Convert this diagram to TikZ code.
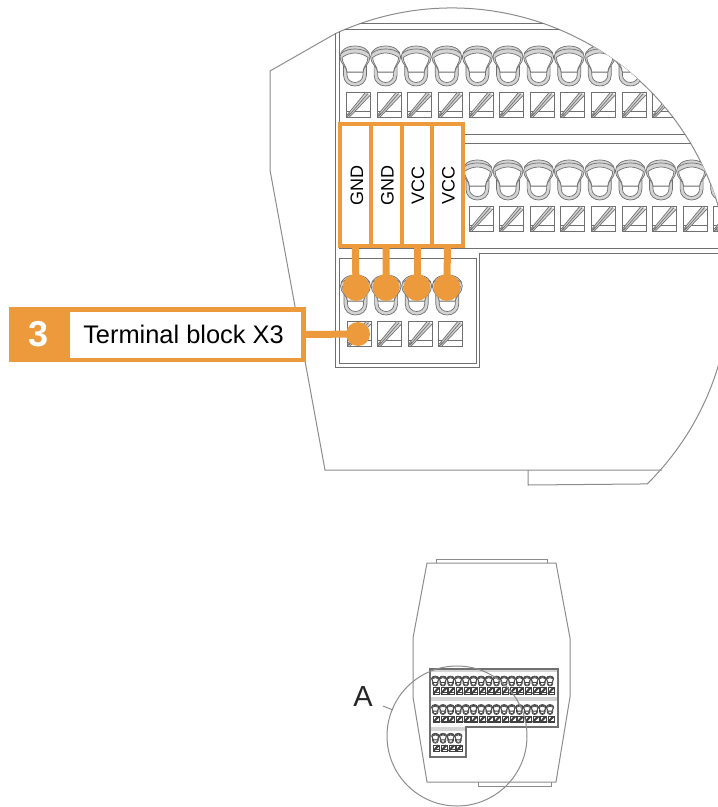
\documentclass[tikz,border=0pt]{standalone}
\usepackage{fontspec}
\usetikzlibrary{calc}
\setmainfont{Liberation Sans}
\definecolor{accent}{HTML}{EC9A3C}
\definecolor{outl}{HTML}{8C8C8C}
\definecolor{tline}{HTML}{707070}
\definecolor{tband}{HTML}{D4D4D4}
\newcommand{\tlw}{0.7pt}
\newcommand{\boxlw}{0.7pt}
\newcommand{\stripelw}{0.7pt}
\newcommand{\fsize}[1]{\fontsize{#1}{#1}\selectfont}
\tikzset{
  outline/.style={draw=outl,line width=1pt},
  inner line/.style={draw=tline,line width=0.8pt},
  tl/.style={draw=tline,line width=\tlw},
  knob/.pic={
    \draw[tl,fill=tband] (-11.5,20) -- (-11.5,29) .. controls (-11.5,36) and (-6,40) .. (0,40)
       .. controls (6,40) and (11.5,36) .. (11.5,29) -- (11.5,20) -- cycle;
    \draw[tl,fill=white] (-8,26) -- (-8,29) .. controls (-8,33.5) and (-4,36.5) .. (0,36.5) .. controls (4,36.5) and (8,33.5) .. (8,29) -- (8,26) -- cycle;
    \draw[tl,fill=tband] (-8,26) .. controls (-8,21) and (-15,18) .. (-15,11)
       .. controls (-15,4) and (-8,0) .. (0,0) .. controls (8,0) and (15,4) .. (15,11)
       .. controls (15,18) and (8,21) .. (8,26) -- cycle;
    \draw[tl,fill=white] (-8,26) .. controls (-8,21) and (-13,17) .. (-13,11.5)
       .. controls (-9,8.5) and (-4,7) .. (0,7) .. controls (4,7) and (9,8.5) .. (13,11.5)
       .. controls (13,17) and (8,21) .. (8,26) -- cycle;
    \draw[tl] (-14,7.5) .. controls (-10,4) and (-5,3) .. (0,3) .. controls (5,3) and (10,4) .. (14,7.5);
  },
  screw/.pic={
    \draw[draw=tline,line width=\boxlw] (0,0) rectangle (24,25);
    \draw[draw=tline,line width=\boxlw] (0,19) -- (24,19);
    \fill[tband] (0.5,23) -- (19,0.5) -- (24,3) -- (3,25) -- cycle;
    \draw[draw=tline,line width=\stripelw] (0.5,23) -- (19,0.5);
    \draw[draw=tline,line width=\stripelw] (1.5,24.5) -- (21.5,1.5);
    \draw[draw=tline,line width=\stripelw] (3,25) -- (24,3);
    \draw[tl,line width=1.1*\stripelw] (0.3,25) -- (3.5,21.3);
  },
  tagtext/.style={font=\fsize{18},rotate=90,inner sep=0pt},
  signal/.style={draw=accent,line width=4pt,fill=white,minimum width=30.6pt,minimum height=122pt,inner sep=0pt},
  dot/.style={circle,fill=accent,inner sep=0pt},
  leader/.style={draw=accent,line width=7pt},
}
\newcommand{\terminals}{%
  \foreach \i in {0,...,15}{
    \pic[transform shape] at ({355+30.6*\i},46) {knob};
    \pic[transform shape] at ({346.5+30.6*\i},92) {screw};
    \pic[transform shape] at ({355+30.6*\i},160) {knob};
    \pic[transform shape] at ({346.5+30.6*\i},206) {screw};
  }
  \foreach \i in {0,...,3}{
    \pic[transform shape] at ({355.5+30.6*\i},275) {knob};
    \pic[transform shape] at ({347+30.6*\i},321) {screw};
  }
}
\begin{document}
\begin{tikzpicture}[x=1pt,y=-1pt]
\useasboundingbox (0,0) rectangle (718,807);
\begin{scope}
  \clip (0,0) rectangle (718,807);
  % housing outline
  \draw[outline] (270,170) -- (270,71) -- ($(452,286)+(114.8:278pt)$)
     arc[start angle=114.8,end angle=-45.4,radius=278pt] -- (528,485) -- (528,470);
  \draw[outline] (270,170) -- (325,470) -- (662,470);
  % inner parts, cut by the detail circle
  \clip (452,286) circle[radius=278pt];
  \draw[inner line] (335,20) -- (335,367) -- (479,367) -- (479,253) -- (730,253);
  \draw[inner line] (339,20) -- (339,248) -- (730,248);
  \draw[inner line] (339,29) -- (730,29);
  \draw[inner line] (339,23) -- (730,23);
  \draw[inner line] (464,134) -- (730,134);
  \draw[inner line] (464,143) -- (730,143);
  \draw[inner line] (339,258) rectangle (476,363);
  \terminals
\end{scope}

% orange call-outs
\node[signal] (gnda) at (355.3,185) {};
\node[signal] (gndb) at (386.2,185) {};
\node[signal] (vcca) at (417,185) {};
\node[signal] (vccb) at (447.4,185) {};
\node[tagtext] (gndat) at (357,185) {GND};
\node[tagtext] (gndbt) at (387.5,185) {GND};
\node[tagtext] (vccat) at (418,185) {VCC};
\node[tagtext] (vccbt) at (448.5,185) {VCC};
\node[dot,minimum size=26.6pt] (da) at (356,287.5) {};
\node[dot,minimum size=26.6pt] (db) at (386,287.5) {};
\node[dot,minimum size=26.6pt] (dc) at (417,287.5) {};
\node[dot,minimum size=26.6pt] (dd) at (447,287.5) {};
\node[dot,minimum size=24pt] (de) at (358,334) {};
\draw[leader] (gnda.south) -- (da.center);
\draw[leader] (gndb.south) -- (db.center);
\draw[leader] (vcca.south) -- (dc.center);
\draw[leader] (vccb.south) -- (dd.center);

\node[fill=accent,minimum width=60pt,minimum height=55pt,inner sep=0pt,text=white,font=\fsize{36}\bfseries] (num) at (39,334.5) {3};
\node[draw=accent,line width=4.5pt,fill=white,minimum width=236pt,minimum height=50.5pt,inner sep=0pt,font=\fsize{25.4}] (lab) at (185.3,334.5) {Terminal block X3\hspace*{3.6pt}};
\draw[leader] (lab.east) -- (de.center);

% overview
\draw[outline] (427,563) -- (556,563) -- (570,638) -- (570,697) -- (556,782) -- (427,782) -- (413,697) -- (413,638) -- cycle;
\draw[outline] (436,563) -- (436,559) -- (547,559) -- (547,563);
\draw[outline] (478,782) -- (478,786) -- (551,786) -- (551,782);
\fill[tband] (430,697) rectangle (558,701);
\fill[tband] (430,669) rectangle (558,672);
\fill[tband] (430,727) rectangle (466,731);
\begin{scope}[shift={(346.5,664.5)},scale=.25]
  \renewcommand{\tlw}{0.65pt}
  \renewcommand{\boxlw}{0.1pt}
  \renewcommand{\stripelw}{1.0pt}
  \colorlet{tline}{black!75}
  \colorlet{tband}{black!35}
  \terminals
\end{scope}
\draw[draw=tline,line width=1.3pt] (430,669) -- (558,669) -- (558,727) -- (466,727) -- (466,757) -- (430,757) -- cycle;

\coordinate (ticka) at (383,706);
\coordinate (tickb) at (393,710);
\draw[draw=outl,line width=1pt] (457,736) circle[radius=70pt];
\draw[draw=outl,line width=1pt] (ticka) -- (tickb);
\node[font=\fsize{29},inner sep=0pt,text=black!85] (capa) at (363,697) {A};
\end{tikzpicture}
\end{document}
